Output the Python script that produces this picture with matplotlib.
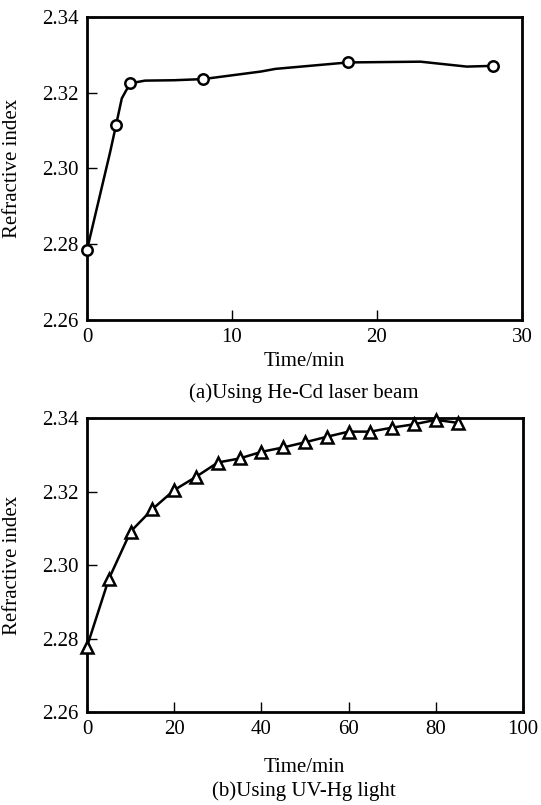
import matplotlib.pyplot as plt

plt.rcParams['font.family'] = ['Liberation Serif', 'DejaVu Serif']
plt.rcParams['font.size'] = 15

# (a) He-Cd laser beam: measured points and the drawn curve
time_a = [0, 2, 3, 8, 18, 28]
index_a = [2.2785, 2.3114, 2.3225, 2.3236, 2.3280, 2.3271]
curve_t_a = [0, 1.6, 2, 2.4, 2.7, 3, 4, 6, 8, 12, 13, 18, 23, 26.2, 28]
curve_v_a = [2.2785, 2.3044, 2.3114, 2.3185, 2.3206, 2.3225, 2.3232, 2.3233,
             2.3236, 2.3256, 2.3263, 2.3280, 2.3282, 2.3269, 2.3271]

# (b) UV-Hg light
time_b = [0, 5, 10, 15, 20, 25, 30, 35, 40, 45, 50, 55, 60, 65, 70, 75, 80, 85]
index_b = [2.2778, 2.2962, 2.3091, 2.3152, 2.3204, 2.3240, 2.3279, 2.3290,
           2.3308, 2.3320, 2.3334, 2.3349, 2.3363, 2.3363, 2.3374, 2.3383,
           2.3395, 2.3387]

yticks = [2.26, 2.28, 2.30, 2.32, 2.34]
ytick_labels = ['2.26', '2.28', '2.30', '2.32', '2.34']

fig = plt.figure(figsize=(5.41, 8.05), dpi=100)
ax1 = fig.add_axes([0.1608, 0.6025, 0.804, 0.3764])
ax2 = fig.add_axes([0.1608, 0.1155, 0.806, 0.3652])


def style_axes(ax, xmax, xstep):
    ax.set_xlim(0, xmax)
    ax.set_ylim(2.26, 2.34)
    ax.set_xticks(range(0, xmax + 1, xstep))
    ax.set_yticks(yticks)
    ax.set_yticklabels(ytick_labels)
    ax.tick_params(direction='in', length=7, width=1, pad=6)
    for sp in ax.spines.values():
        sp.set_linewidth(2)
    ax.set_ylabel('Refractive index')
    ax.yaxis.set_label_coords(-0.15, 0.5)


ax1.plot(curve_t_a, curve_v_a, color='black', linewidth=1.8, clip_on=False)
ax1.plot(time_a, index_a, linestyle='none', marker='o', markersize=7.5,
         markerfacecolor='white', markeredgecolor='black', markeredgewidth=1.8,
         clip_on=False, zorder=3)
style_axes(ax1, 30, 10)

ax2.plot(time_b, index_b, color='black', linewidth=1.8, marker='^', markersize=8,
         markerfacecolor='white', markeredgecolor='black', markeredgewidth=1.8,
         clip_on=False, zorder=3)
style_axes(ax2, 100, 20)

cx = 304 / 541
fig.text(cx, 1 - 361 / 805, 'Time/min', ha='center', va='center')
fig.text(cx, 1 - 393 / 805, '(a)Using He-Cd laser beam', ha='center', va='center')
fig.text(cx, 1 - 767 / 805, 'Time/min', ha='center', va='center')
fig.text(cx, 1 - 791 / 805, '(b)Using UV-Hg light', ha='center', va='center')

fig.savefig('out.png', dpi=100)
